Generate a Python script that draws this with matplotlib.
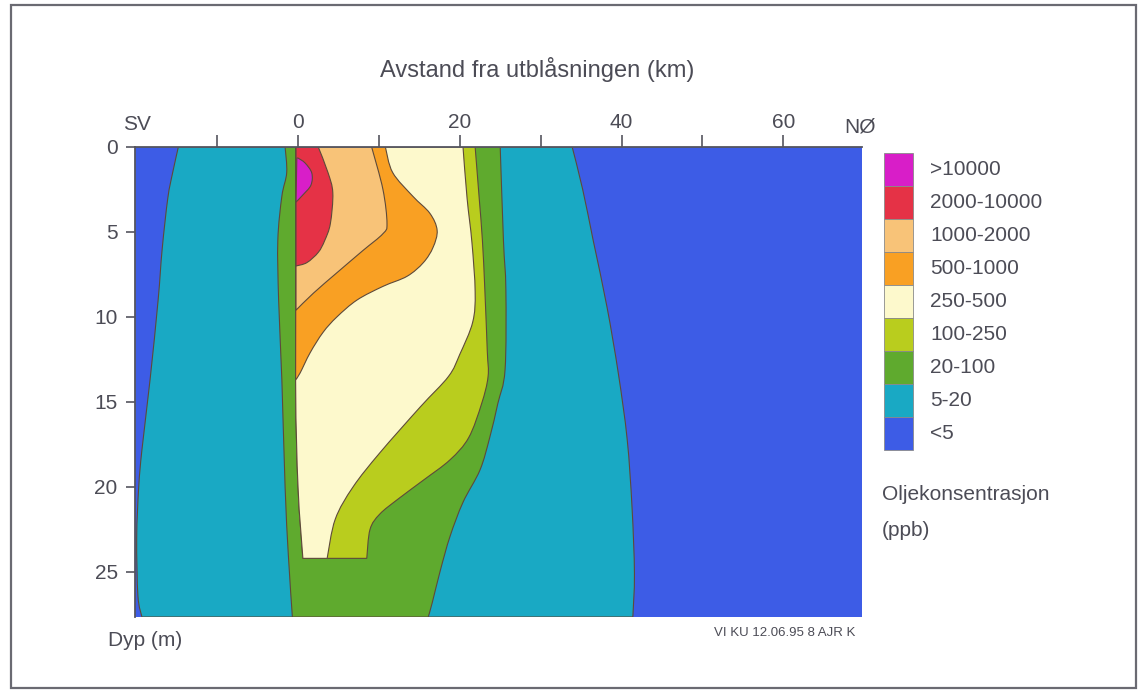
import matplotlib
matplotlib.use("Agg")
import matplotlib.pyplot as plt
from matplotlib.patches import Rectangle, PathPatch
from matplotlib.path import Path

plt.rcParams['font.family'] = ['Liberation Sans', 'DejaVu Sans']

# ---------------- data ----------------
levels = ['<5', '5-20', '20-100', '100-250', '250-500',
          '500-1000', '1000-2000', '2000-10000', '>10000']
colors = ['#3d5ce6', '#19a9c4', '#5faa2e', '#b9cd1e', '#fdf9cc',
          '#f9a023', '#f8c378', '#e53246', '#d81ec8']

# zone boundaries: depth (m) and distance (km)
teal_left_d = [0, 1.5, 3, 6, 9, 13.7, 17.8, 20, 23, 26.4, 27.65]
teal_left_x = [-14.8, -15.5, -16.1, -16.8, -17.3, -18.3, -19.3, -19.7, -19.95, -19.8, -19.3]
teal_right_d = [0, 2.5, 5.5, 9.4, 13.3, 17.2, 21.2, 25.1, 27.65]
teal_right_x = [33.9, 35.2, 36.5, 38.2, 39.6, 40.7, 41.3, 41.6, 41.4]

green_left_d = [0, 1.5, 2.9, 5.5, 9, 13.7, 20, 24, 27.65]
green_left_x = [-1.6, -1.4, -2.0, -2.5, -2.4, -2.0, -1.6, -1.2, -0.7]
green_right_d = [0, 5.5, 8.4, 13.1, 15.1, 17.1, 19.0, 20.9, 22.9, 24.9, 26.8, 27.65]
green_right_x = [25.0, 25.4, 25.7, 25.6, 24.7, 23.7, 22.5, 20.4, 18.8, 17.6, 16.6, 16.1]

plume_left_d = [0, 13.7, 20, 24.2]
plume_left_x = [-0.25, -0.3, 0.0, 0.6]

yg_right_d = [0, 3, 5.5, 8.4, 12, 13.5, 15.1, 17.1, 18.4, 19.6, 20.7, 21.6, 22.5, 24.2]
yg_right_x = [21.9, 22.4, 22.8, 23.1, 23.4, 23.5, 22.7, 21.1, 18.8, 15.5, 12.4, 10.1, 8.9, 8.5]

pale_right_d = [0, 3, 5.6, 8.5, 10.3, 12.2, 13.5, 15.3, 18.0, 20.0, 21.9, 24.2]
pale_right_x = [20.4, 20.9, 21.5, 21.9, 21.6, 20.0, 18.6, 15.1, 10.1, 6.8, 4.6, 3.6]

orange_left_d = [0, 13.7]
orange_left_x = [-0.25, -0.3]
orange_right_d = [0, 1.5, 2.9, 3.9, 4.9, 5.9, 6.8, 7.6, 8.2, 9.0, 10.0, 10.9, 12.1, 13.3, 13.7]
orange_right_x = [10.8, 11.7, 14.2, 16.3, 17.2, 16.7, 15.5, 13.5, 10.5, 7.3, 4.8, 3.1, 1.5, 0.25, -0.3]

lorange_left_d = [0, 9.6]
lorange_left_x = [-0.25, -0.25]
lorange_right_d = [0, 2.5, 4.5, 5.1, 6.1, 7.4, 8.6, 9.6]
lorange_right_x = [9.1, 10.5, 11.0, 10.5, 8.0, 4.8, 1.9, -0.25]

red_left_d = [0, 7.0]
red_left_x = [-0.25, -0.25]
red_right_d = [0, 1.5, 2.7, 4.5, 5.5, 6.2, 6.8, 7.0]
red_right_x = [2.5, 3.7, 4.3, 4.0, 3.3, 2.5, 1.1, -0.25]

mag_left_d = [0.65, 3.24]
mag_left_x = [-0.15, -0.25]
mag_right_d = [0.65, 0.94, 1.53, 2.24, 2.82, 3.24]
mag_right_x = [0.0, 0.87, 1.7, 1.6, 0.6, -0.25]

x_ticks = [-10, 0, 10, 20, 30, 40, 50, 60]
x_ticklabels = ['', '0', '', '20', '', '40', '', '60']
y_ticks = [0, 5, 10, 15, 20, 25]


def curve_segments(pts):
    """Catmull-Rom style Bezier segments through the given boundary points."""
    verts, codes = [], []
    n = len(pts)
    for i in range(n - 1):
        p0 = pts[i - 1] if i > 0 else pts[i]
        p1 = pts[i]
        p2 = pts[i + 1]
        p3 = pts[i + 2] if i + 2 < n else pts[i + 1]
        c1 = (p1[0] + (p2[0] - p0[0]) / 6.0, p1[1] + (p2[1] - p0[1]) / 6.0)
        c2 = (p2[0] - (p3[0] - p1[0]) / 6.0, p2[1] - (p3[1] - p1[1]) / 6.0)
        verts += [c1, c2, p2]
        codes += [Path.CURVE4] * 3
    return verts, codes


def region_path(ld, lx, rd, rx):
    left = list(zip(lx, ld))
    right = list(zip(rx, rd))[::-1]
    verts = [left[0]]
    codes = [Path.MOVETO]
    v, c = curve_segments(left)
    verts += v
    codes += c
    verts.append(right[0])
    codes.append(Path.LINETO)
    v, c = curve_segments(right)
    verts += v
    codes += c
    verts.append(left[0])
    codes.append(Path.CLOSEPOLY)
    return Path(verts, codes)


# ---------------- figure ----------------
W, H = 1138, 692
fig = plt.figure(figsize=(W / 100, H / 100), dpi=100)
fig.patch.set_facecolor('white')
tc = '#4c4c56'

ax = fig.add_axes([135 / W, 1 - 617 / H, (861.7 - 135) / W, (617 - 147) / H])
ax.set_facecolor(colors[0])
ax.set_xlim(-20.16, 69.7)
ax.set_ylim(27.65, 0)

regions = [
    (teal_left_d, teal_left_x, teal_right_d, teal_right_x, colors[1]),
    (green_left_d, green_left_x, green_right_d, green_right_x, colors[2]),
    (plume_left_d, plume_left_x, yg_right_d, yg_right_x, colors[3]),
    (plume_left_d, plume_left_x, pale_right_d, pale_right_x, colors[4]),
    (orange_left_d, orange_left_x, orange_right_d, orange_right_x, colors[5]),
    (lorange_left_d, lorange_left_x, lorange_right_d, lorange_right_x, colors[6]),
    (red_left_d, red_left_x, red_right_d, red_right_x, colors[7]),
    (mag_left_d, mag_left_x, mag_right_d, mag_right_x, colors[8]),
]
for ld, lx, rd, rx, c in regions:
    patch = PathPatch(region_path(ld, lx, rd, rx), facecolor=c,
                      edgecolor='#5e4a3a', linewidth=0.8, zorder=2)
    ax.add_patch(patch)

for s in ['right', 'bottom']:
    ax.spines[s].set_visible(False)
for s in ['top', 'left']:
    ax.spines[s].set_color('#55555f')
    ax.spines[s].set_linewidth(1.3)
    ax.spines[s].set_zorder(5)

ax.xaxis.tick_top()
ax.set_xticks(x_ticks)
ax.set_xticklabels(x_ticklabels)
ax.set_yticks(y_ticks)
ax.set_yticklabels([str(v) for v in y_ticks])
ax.tick_params(axis='x', direction='out', length=8.5, width=1.2, color='#55555f',
               labelsize=15, labelcolor=tc, pad=2)
ax.tick_params(axis='y', direction='out', length=6.5, width=1.2, color='#55555f',
               labelsize=15, labelcolor=tc, pad=6)

# texts
fig.text(537 / W, 1 - 70 / H, 'Avstand fra utblåsningen (km)', ha='center', va='center',
         fontsize=17, color=tc)
fig.text(137 / W, 1 - 124 / H, 'SV', ha='center', va='center', fontsize=15, color=tc)
fig.text(860 / W, 1 - 127 / H, 'NØ', ha='center', va='center', fontsize=15, color=tc)
fig.text(108 / W, 1 - 640 / H, 'Dyp (m)', ha='left', va='center', fontsize=15, color=tc)
fig.text(855 / W, 1 - 633 / H, 'VI KU 12.06.95 8 AJR K', ha='right', va='center',
         fontsize=9.5, color=tc)

# legend
box_top, box_h = 153, 33
for i, (lab, c) in enumerate(zip(levels[::-1], colors[::-1])):
    y0 = box_top + i * box_h
    fig.patches.append(Rectangle((884 / W, 1 - (y0 + box_h) / H), 29 / W, box_h / H,
                                 transform=fig.transFigure, facecolor=c,
                                 edgecolor='#8a8a8a', linewidth=0.6))
    fig.text(930 / W, 1 - (y0 + box_h / 2) / H, lab, ha='left', va='center',
             fontsize=15, color=tc)
fig.text(882 / W, 1 - 495 / H, 'Oljekonsentrasjon', ha='left', va='center',
         fontsize=15, color=tc)
fig.text(882 / W, 1 - 530 / H, '(ppb)', ha='left', va='center', fontsize=15, color=tc)

# outer frame
fig.patches.append(Rectangle((11 / W, 1 - 688 / H), (1136 - 11) / W, (688 - 5) / H,
                             transform=fig.transFigure, fill=False,
                             edgecolor='#6a6a72', linewidth=1.6))

fig.savefig('out.png', dpi=100)
